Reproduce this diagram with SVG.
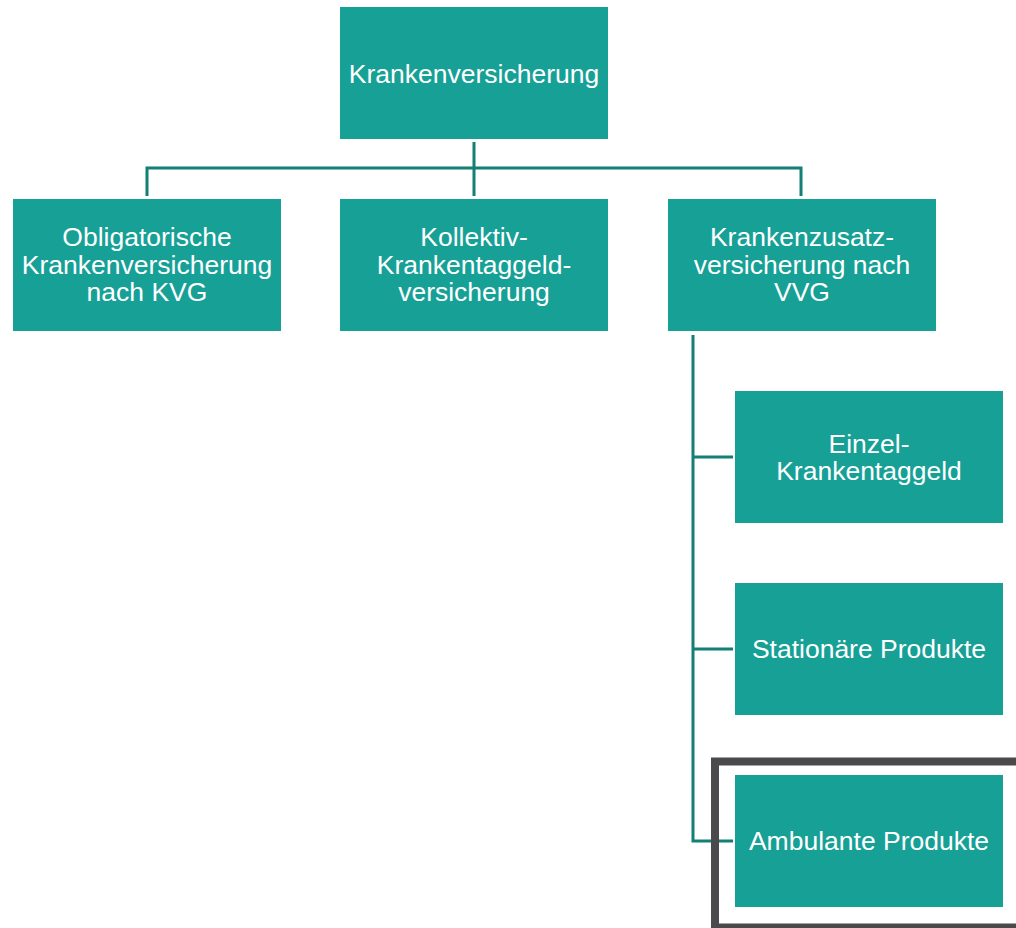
<svg xmlns="http://www.w3.org/2000/svg" width="1016" height="928" viewBox="0 0 1016 928">
  <style>
    .box { fill: #17a096; }
    .label { fill: #ffffff; font-family: "Liberation Sans", Arial, sans-serif; font-size: 26.5px; text-anchor: middle; }
    .conn { fill: none; stroke: #137f77; stroke-width: 3; }
    .frame { fill: none; stroke: #4a4a4c; stroke-width: 8; }
  </style>
  <rect width="1016" height="928" fill="#ffffff"/>

  <!-- connectors -->
  <g id="connectors">
    <path class="conn" d="M474 142 V196"/>
    <path class="conn" d="M147 196 V168 H801 V196"/>
    <path class="conn" d="M693 335 V841 H733"/>
    <path class="conn" d="M693 457 H733"/>
    <path class="conn" d="M693 649 H733"/>
  </g>

  <g id="root">
    <rect class="box" x="340" y="7" width="268" height="132"/>
    <text class="label" x="474" y="82.5">Krankenversicherung</text>
  </g>

  <g id="okp">
    <rect class="box" x="13" y="199" width="268" height="132"/>
    <text class="label" x="147" y="246">Obligatorische</text>
    <text class="label" x="147" y="273.5">Krankenversicherung</text>
    <text class="label" x="147" y="300.5">nach KVG</text>
  </g>

  <g id="kollektiv">
    <rect class="box" x="340" y="199" width="268" height="132"/>
    <text class="label" x="474" y="246">Kollektiv-</text>
    <text class="label" x="474" y="273.5">Krankentaggeld-</text>
    <text class="label" x="474" y="300.5">versicherung</text>
  </g>

  <g id="zusatz">
    <rect class="box" x="668" y="199" width="268" height="132"/>
    <text class="label" x="802" y="246">Krankenzusatz-</text>
    <text class="label" x="802" y="273.5">versicherung nach</text>
    <text class="label" x="802" y="300.5">VVG</text>
  </g>

  <g id="einzel">
    <rect class="box" x="735" y="391" width="268" height="132"/>
    <text class="label" x="869" y="452.5">Einzel-</text>
    <text class="label" x="869" y="479.5">Krankentaggeld</text>
  </g>

  <g id="stationaer">
    <rect class="box" x="735" y="583" width="268" height="132"/>
    <text class="label" x="869" y="658">Stationäre Produkte</text>
  </g>

  <g id="ambulant">
    <rect class="box" x="735" y="775" width="268" height="132"/>
    <text class="label" x="869" y="850">Ambulante Produkte</text>
  </g>

  <!-- highlight frame around the last product -->
  <rect class="frame" x="715" y="761.5" width="320" height="166"/>
</svg>
